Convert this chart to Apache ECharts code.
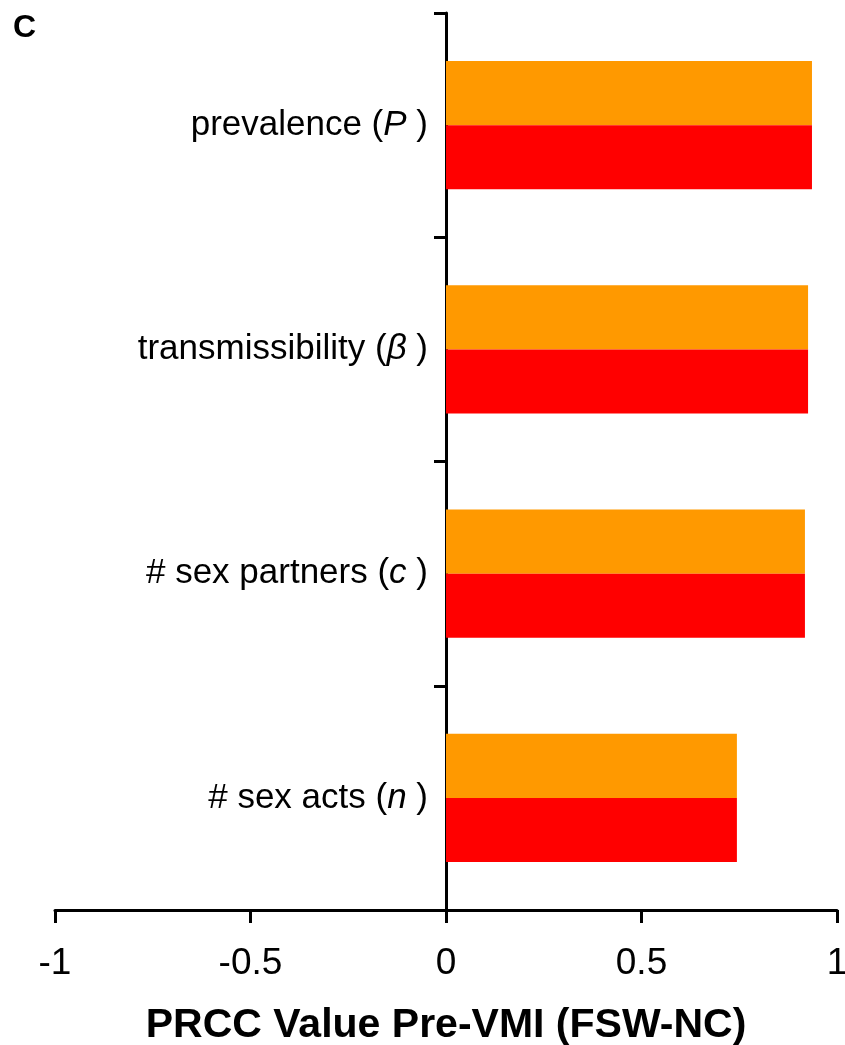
<!DOCTYPE html>
<html>
<head>
<meta charset="utf-8">
<script src="https://cdn.jsdelivr.net/npm/echarts@6/dist/echarts.min.js"></script>
<style>
  html, body { margin: 0; padding: 0; background: #fff; }
  #chart { width: 845px; height: 1045px; }
</style>
</head>
<body>
<div id="chart"></div>
<script>
// Parameters (top to bottom) with their italic symbols
const categories = ['prevalence', 'transmissibility', '# sex partners', '# sex acts'];
const symbols = ['P', 'β', 'c', 'n'];
// PRCC values for the two groups
const fswValues = [0.936, 0.926, 0.918, 0.744];
const ncValues = [0.936, 0.926, 0.918, 0.744];
const xTicks = [-1, -0.5, 0, 0.5, 1];

const FONT = 'Liberation Sans, Arial, sans-serif';

// Plot area; the category axis sits at value 0, i.e. the middle of the grid
const GRID_LEFT = 55, GRID_RIGHT = 8;
const plotWidth = 845 - GRID_LEFT - GRID_RIGHT;
const zeroShift = plotWidth * (0 - xTicks[0]) / (xTicks[xTicks.length - 1] - xTicks[0]);

const chart = echarts.init(document.getElementById('chart'), null, { renderer: 'canvas' });

chart.setOption({
  animation: false,
  backgroundColor: '#fff',
  title: {
    text: 'C',
    left: 8,
    top: 7,
    textStyle: { fontFamily: FONT, fontWeight: 'bold', fontSize: 32, color: '#000' }
  },
  grid: { left: GRID_LEFT, right: GRID_RIGHT, top: 13, bottom: 135, containLabel: false, outerBoundsMode: 'none' },
  xAxis: {
    type: 'value',
    min: xTicks[0],
    max: xTicks[xTicks.length - 1],
    interval: 0.5,
    splitLine: { show: false },
    axisLine: { show: true, onZero: false, lineStyle: { color: '#000', width: 3 } },
    axisTick: { show: true, length: 13, lineStyle: { color: '#000', width: 3 } },
    axisLabel: {
      margin: 35, fontFamily: FONT, fontSize: 37, color: '#000',
      formatter: v => String(v)
    },
    name: 'PRCC Value Pre-VMI (FSW-NC)',
    nameLocation: 'middle',
    nameGap: 95,
    nameTextStyle: { fontFamily: FONT, fontWeight: 'bold', fontSize: 41, color: '#000' }
  },
  yAxis: {
    type: 'category',
    inverse: true,
    data: categories,
    offset: -zeroShift,
    axisLine: { show: true, onZero: false, lineStyle: { color: '#000', width: 3 } },
    axisTick: { show: true, length: 12, lineStyle: { color: '#000', width: 3 } },
    axisLabel: {
      margin: 18,
      formatter: (v, i) => '{n|' + v + ' (}{i|' + symbols[i] + '}{n| )}',
      rich: {
        n: { fontFamily: FONT, fontSize: 35, color: '#000' },
        i: { fontFamily: FONT, fontStyle: 'italic', fontSize: 35, color: '#000' }
      }
    }
  },
  series: [
    {
      name: 'FSW',
      type: 'bar',
      data: fswValues,
      barWidth: '28.6%',
      barGap: '0%',
      itemStyle: { color: '#ff9900' }
    },
    {
      name: 'NC',
      type: 'bar',
      data: ncValues,
      barWidth: '28.6%',
      barGap: '0%',
      itemStyle: { color: '#ff0000' }
    }
  ]
});
</script>
</body>
</html>
